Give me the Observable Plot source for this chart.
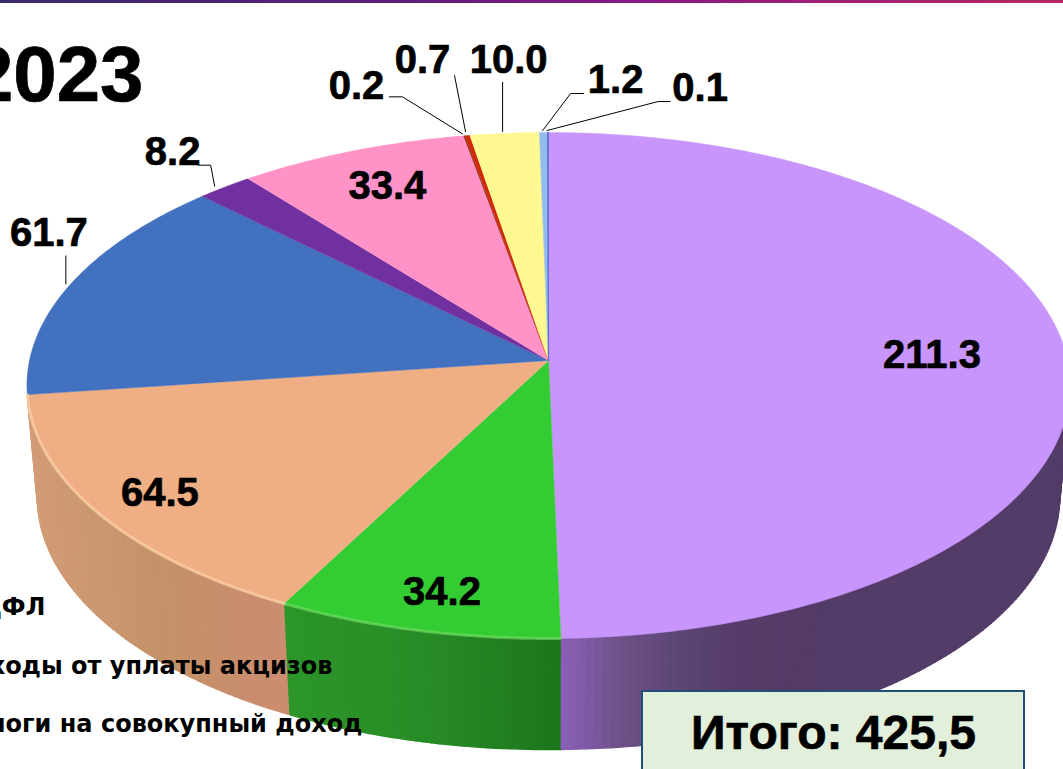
<!DOCTYPE html>
<html lang="ru">
<head>
<meta charset="utf-8">
<script src="https://cdn.jsdelivr.net/npm/d3@7"></script>
<script src="https://cdn.jsdelivr.net/npm/@observablehq/plot@0.6"></script>
<style>
html,body{margin:0;padding:0;background:#fff;overflow:hidden}
#wrap{position:relative;width:1063px;height:769px;overflow:hidden}
#bar{position:absolute;left:0;top:0;width:1063px;height:3px;background:linear-gradient(90deg,#38296a 0%,#5a1f78 35%,#8a1a82 62%,#b82860 100%)}
svg{display:block}
</style>
</head>
<body>
<div id="wrap"><div id="chart"></div><div id="bar"></div></div>
<script>
// ---- data ----
const titleText = "2023";
const sliceValues = [211.3, 34.2, 64.5, 61.7, 8.2, 33.4, 0.2, 0.7, 10.0, 1.2, 0.1];
const sliceColors = ["#c795fb","#33cc33","#f0ae84","#4271bf","#7030a0","#ff93c8","#8b2a10","#d02808","#fdf88f","#93bbec","#5a70d0"];
const legendLines = ["НДФЛ","Доходы от уплаты акцизов","Налоги на совокупный доход"];
const totalText = "Итого: 425,5";
const wallStops = {
  0:["#533c68","#533b66","#553c68","#5c4474","#6d5288","#8a60b8"],
  1:["#2c9629","#288c26","#1c761c"],
  2:["#d29c76","#c49268","#cc8c70"]
};

// ---- picture geometry (perspective view of a flat disc) ----
const W = 1063, H = 769;
const cx = 548, cy = 360, ax = 519, ay = 250.5, k = 0.0988, depth = 111, shrink = 0.98;
const total = d3.sum(sliceValues);
const rim = v => {
  const t = v / total * 2 * Math.PI, d = 1 + k * Math.cos(t);
  return {x: cx + ax * Math.sin(t) / d, y: cy - ay * Math.cos(t) / d};
};
const cum = d3.cumsum(sliceValues);
const starts = sliceValues.map((v, i) => cum[i] - v);
const mids = sliceValues.map((v, i) => rim(starts[i] + v / 2));

// top surface polygons
const surface = [];
sliceValues.forEach((v, i) => {
  const n = Math.max(2, Math.ceil(v * 1.2));
  surface.push({id: i, x: cx, y: cy, fill: sliceColors[i]});
  for (let j = 0; j <= n; ++j) surface.push({id: i, ...rim(starts[i] + v * j / n), fill: sliceColors[i]});
});

// side wall, in narrow shaded strips
const strips = [];
const wallBottom = p => ({x: cx + (p.x - cx) * shrink, y: p.y + depth});
const step = 1;
[0, 1, 2].forEach(i => {
  const ramp = d3.piecewise(d3.interpolateRgb, wallStops[i]);
  const a = i === 0 ? total * 0.265 : starts[i], b = cum[i];
  const n = Math.ceil((b - a) / step);
  const x0 = rim(i === 0 ? b : a).x, x1 = rim(i === 0 ? a + total * 0.05 : b).x;
  for (let j = 0; j < n; ++j) {
    const p = rim(a + (b - a) * j / n), q = rim(a + (b - a) * (j + 1) / n);
    const pb = wallBottom(p), qb = wallBottom(q);
    const mx = (p.x + q.x) / 2;
    const s = Math.max(0, Math.min(1, i === 0 ? (1 - (mx - x0) / 300) : (mx - Math.min(x0, x1)) / Math.abs(x1 - x0)));
    const c = ramp(s);
    const id = i + "-" + j;
    for (const r of [p, q, qb, pb]) strips.push({id, x: r.x, y: r.y, fill: c});
  }
});

// highlight along the front edge of the lit slices
const edge = [];
[[1, "#7ae06a"], [2, "#ffdcb0"]].forEach(([i, c]) => {
  const n = 40;
  for (let j = 0; j <= n; ++j) edge.push({id: i, ...rim(starts[i] + sliceValues[i] * j / n), c});
});

// label & leader placement, as offsets from the rim point of each slice
const labelOffsets = [[-135,-3],[25,-38],[62,-20],[-22,-51],[-52,-35],[36,35],[-108,-50],[-45,-75],[4,-73],[72,-52],[152,-44]];
const leaderOffsets = {
  3:[[-5,0],[-5,-28]],
  4:[[-10,-1],[-14,-22],[-26,-22]],
  6:[[-2,-2],[-62,-39],[-75,-39]],
  7:[[-2,-4],[-13,-60]],
  8:[[-2,-2],[-2,-51]],
  9:[[-1,-2],[27,-39],[40,-39]],
  10:[[-1,-2],[110,-31],[122,-31]]
};
const labels = sliceValues.map((v, i) => ({
  text: v.toFixed(1),
  x: mids[i].x + labelOffsets[i][0],
  y: mids[i].y + labelOffsets[i][1]
}));
const leaders = [];
Object.entries(leaderOffsets).forEach(([i, pts]) =>
  pts.forEach(([dx, dy]) => leaders.push({id: i, x: mids[i].x + dx, y: mids[i].y + dy})));

const numFont = "'Liberation Sans', Arial, sans-serif";
const wideFont = "'DejaVu Sans', sans-serif";
const heavy = {fill: "#000", stroke: "#000", strokeWidth: 0.7, fontWeight: 700, fontFamily: numFont};

const chart = Plot.plot({
  width: W, height: H, margin: 0,
  x: {domain: [0, W], range: [0, W], axis: null},
  y: {domain: [0, H], range: [0, H], axis: null},
  color: {type: "identity"},
  style: {background: "#fff"},
  marks: [
    Plot.line(strips, {x: "x", y: "y", z: "id", fill: "fill", stroke: "fill", strokeWidth: 1.6}),
    Plot.line(surface, {x: "x", y: "y", z: "id", fill: "fill", stroke: "fill", strokeWidth: 0.5}),
    Plot.line(surface.filter(d => d.id === 10), {x: "x", y: "y", z: "id", fill: "fill", stroke: "fill", strokeWidth: 1.2}),
    Plot.line(edge, {x: "x", y: "y", z: "id", stroke: "c", strokeWidth: 3, strokeOpacity: 0.6}),
    Plot.line(leaders, {x: "x", y: "y", z: "id", stroke: "#000", strokeWidth: 1}),
    Plot.text(labels, {x: "x", y: "y", text: "text", fontSize: 40, ...heavy}),
    Plot.text([titleText], {x: () => 143, y: () => 76, text: d => d, textAnchor: "end", fontSize: 78, ...heavy}),
    Plot.text(legendLines, {
      x: (d, i) => [45, 332, 362][i], y: (d, i) => [607, 666, 724][i],
      text: d => d, textAnchor: "end", fill: "#000", fontSize: 24, fontWeight: 700, fontFamily: wideFont
    }),
    Plot.rect([totalText], {x1: () => 642, x2: () => 1024, y1: () => 691, y2: () => 790, fill: "#e2efda", stroke: "#1f4e79", strokeWidth: 2}),
    Plot.text([totalText], {x: () => 833, y: () => 733, text: d => d, fontSize: 48, ...heavy})
  ]
});
document.getElementById("chart").appendChild(chart);
</script>
</body>
</html>
